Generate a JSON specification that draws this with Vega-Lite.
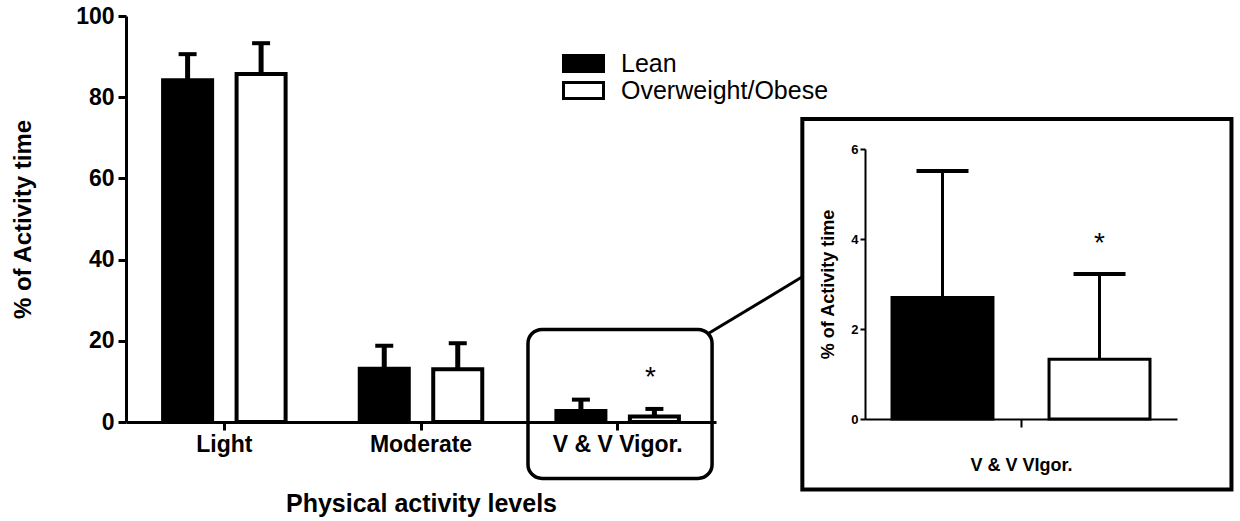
{
  "$schema": "https://vega.github.io/schema/vega-lite/v6.json",
  "width": 590,
  "height": 406,
  "autosize": {"type": "none"},
  "padding": {"left": 126, "top": 16, "right": 524, "bottom": 99},
  "background": "white",
  "config": {
    "view": {"stroke": null},
    "font": "Liberation Sans",
    "axis": {"grid": false, "domainColor": "black", "tickColor": "black", "labelColor": "black", "titleColor": "black", "labelFont": "Liberation Sans", "titleFont": "Liberation Sans", "labelFontWeight": "bold", "titleFontWeight": "bold"}
  },
  "datasets": {
    "bars": [
      {"level": "Light", "group": "Lean", "mean": 84.2, "upper": 90.6, "sig": ""},
      {"level": "Light", "group": "Overweight/Obese", "mean": 85.7, "upper": 93.3, "sig": ""},
      {"level": "Moderate", "group": "Lean", "mean": 13.1, "upper": 18.8, "sig": ""},
      {"level": "Moderate", "group": "Overweight/Obese", "mean": 13.0, "upper": 19.4, "sig": ""},
      {"level": "V & V Vigor.", "group": "Lean", "mean": 2.7, "upper": 5.51, "sig": ""},
      {"level": "V & V Vigor.", "group": "Overweight/Obese", "mean": 1.33, "upper": 3.22, "sig": "*"}
    ],
    "highlight": [{"x": 1.544, "x2": 2.48, "y": 22.8, "y2": -13.9}],
    "frame": [{"x": 2.939, "x2": 5.121, "y": 74.6, "y2": -16.6}],
    "connector": [{"x": 2.461, "y": 21.8, "x2": 2.937, "y2": 35.7}]
  },
  "layer": [
    {
      "data": {"name": "bars"},
      "encoding": {
        "x": {
          "field": "level", "type": "nominal", "sort": null,
          "scale": {"paddingInner": 0.377, "paddingOuter": 0.1886},
          "axis": {"orient": "bottom", "labelAngle": 0, "labelFontSize": 23, "labelPadding": 3, "tickSize": 8, "tickWidth": 3, "domainWidth": 3, "title": "Physical activity levels", "titleFontSize": 25, "titlePadding": 35}
        },
        "xOffset": {"field": "group", "type": "nominal", "sort": null, "scale": {"paddingInner": 0.333, "paddingOuter": 0}}
      },
      "layer": [
        {
          "mark": {"type": "bar", "stroke": "black", "strokeWidth": 4},
          "encoding": {
            "y": {"field": "mean", "type": "quantitative", "title": "% of Activity time",
              "scale": {"domain": [0, 100], "nice": false},
              "axis": {"orient": "left", "values": [0, 20, 40, 60, 80, 100], "tickSize": 8, "tickWidth": 3, "domainWidth": 3, "labelFontSize": 23, "labelPadding": 4, "titleFontSize": 24, "titlePadding": 40}},
            "fill": {"field": "group", "type": "nominal", "sort": null,
              "scale": {"domain": ["Lean", "Overweight/Obese"], "range": ["black", "white"]},
              "legend": {"title": null, "orient": "none", "legendX": 445, "legendY": 35, "symbolType": "M-2,-0.8H2V0.8H-2Z", "symbolSize": 400, "symbolStrokeColor": "black", "symbolStrokeWidth": 3, "symbolOpacity": 1, "labelFontSize": 25, "labelFont": "Liberation Sans", "labelColor": "black", "labelOffset": 25, "labelLimit": 0, "rowPadding": -10, "padding": 0}}
          }
        },
        {
          "mark": {"type": "rule", "color": "black", "strokeWidth": 5},
          "encoding": {
            "y": {"field": "mean", "type": "quantitative", "title": "% of Activity time"},
            "y2": {"field": "upper"}
          }
        },
        {
          "mark": {"type": "tick", "color": "black", "thickness": 4, "size": 18, "opacity": 1},
          "encoding": {"y": {"field": "upper", "type": "quantitative", "title": "% of Activity time"}}
        },
        {
          "mark": {"type": "text", "color": "black", "fontSize": 28, "baseline": "middle", "dy": -31, "dx": -4},
          "encoding": {
            "y": {"field": "upper", "type": "quantitative", "title": "% of Activity time"},
            "text": {"field": "sig"}
          }
        }
      ]
    },
    {
      "data": {"name": "bars"},
      "transform": [{"filter": "datum.level === 'V & V Vigor.'"}],
      "encoding": {
        "x": {
          "field": "level", "type": "nominal",
          "scale": {"range": [739, 1051], "paddingInner": 0, "paddingOuter": 0},
          "axis": {"orient": "bottom", "offset": -3, "labels": false, "tickSize": 8, "tickWidth": 2, "domainWidth": 2, "title": "V & V VIgor.", "titleFontSize": 18, "titlePadding": 28}
        },
        "xOffset": {"field": "group", "type": "nominal", "sort": null, "scale": {"paddingInner": 0.357, "paddingOuter": 0.172}}
      },
      "layer": [
        {
          "mark": {"type": "bar", "stroke": "black", "strokeWidth": 3},
          "encoding": {
            "y": {"field": "mean", "type": "quantitative", "title": "% of Activity time",
              "scale": {"domain": [0, 6], "range": [403, 133], "nice": false},
              "axis": {"orient": "left", "offset": -739, "values": [0, 2, 4, 6], "format": "d", "tickSize": 5, "tickWidth": 2, "domainWidth": 2, "labelFontSize": 13, "labelPadding": 2, "titleFontSize": 18, "titlePadding": 13}},
            "fill": {"field": "group", "type": "nominal", "sort": null}
          }
        },
        {
          "mark": {"type": "rule", "color": "black", "strokeWidth": 3},
          "encoding": {
            "y": {"field": "mean", "type": "quantitative", "title": "% of Activity time"},
            "y2": {"field": "upper"}
          }
        },
        {
          "mark": {"type": "tick", "color": "black", "thickness": 4, "size": 52, "opacity": 1},
          "encoding": {"y": {"field": "upper", "type": "quantitative", "title": "% of Activity time"}}
        },
        {
          "mark": {"type": "text", "color": "black", "fontSize": 28, "baseline": "middle", "dy": -30},
          "encoding": {
            "y": {"field": "upper", "type": "quantitative", "title": "% of Activity time"},
            "text": {"field": "sig"}
          }
        }
      ]
    },
    {
      "layer": [
        {
          "data": {"name": "highlight"},
          "mark": {"type": "rect", "filled": false, "stroke": "black", "strokeWidth": 3.5, "cornerRadius": 14},
          "encoding": {
            "x": {"field": "x", "type": "quantitative", "scale": {"domain": [-0.5, 2.5], "nice": false, "zero": false}, "axis": null},
            "x2": {"field": "x2"},
            "y": {"field": "y", "type": "quantitative", "scale": {"domain": [0, 100], "nice": false}, "axis": null},
            "y2": {"field": "y2"}
          }
        },
        {
          "data": {"name": "frame"},
          "mark": {"type": "rect", "filled": false, "stroke": "black", "strokeWidth": 4},
          "encoding": {
            "x": {"field": "x", "type": "quantitative", "axis": null},
            "x2": {"field": "x2"},
            "y": {"field": "y", "type": "quantitative", "axis": null},
            "y2": {"field": "y2"}
          }
        },
        {
          "data": {"name": "connector"},
          "mark": {"type": "rule", "color": "black", "strokeWidth": 3},
          "encoding": {
            "x": {"field": "x", "type": "quantitative", "axis": null},
            "x2": {"field": "x2"},
            "y": {"field": "y", "type": "quantitative", "axis": null},
            "y2": {"field": "y2"}
          }
        }
      ]
    }
  ],
  "resolve": {
    "scale": {"x": "independent", "y": "independent", "xOffset": "independent"},
    "axis": {"x": "independent", "y": "independent"}
  }
}
